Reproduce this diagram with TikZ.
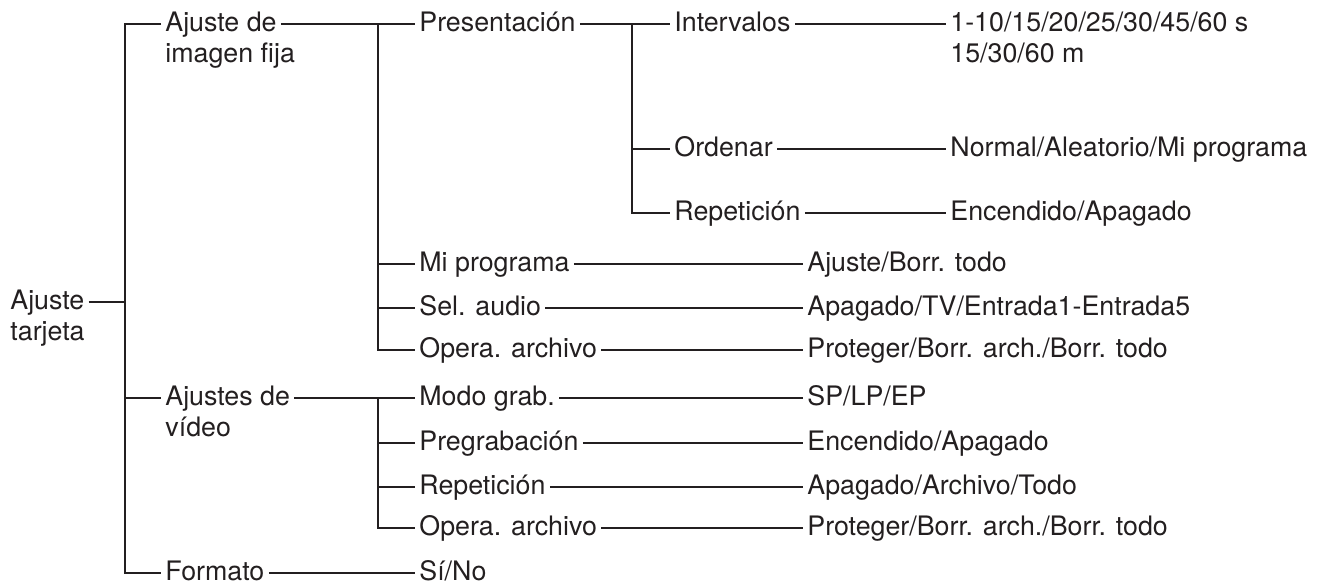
\documentclass[tikz,border=0pt]{standalone}
\usepackage{fontspec}
\setmainfont{TeX Gyre Heros}
\definecolor{tjtinta}{HTML}{231F20}
\tikzset{
  tjitem/.style={anchor=west, inner xsep=2pt, inner ysep=0pt, text height=0.72em,
                 text depth=0pt, text=tjtinta},
  tjsub/.style={anchor=base west, inner xsep=2pt, inner ysep=0pt, text height=0.72em,
                 text depth=0pt, text=tjtinta, yshift=-15.5pt},
  tjlinea/.style={draw=tjtinta, line width=1pt},
}
\begin{document}
\begin{tikzpicture}[x=0.5pt, y=-0.5pt, font=\fontsize{13.4}{15.5}\selectfont]
        \useasboundingbox (0,0) rectangle (1319,585);
        % ---------------- troncos ----------------
        \coordinate (t1) at (125,0);
        \coordinate (t2) at (378,0);
        \coordinate (t3) at (632,0);
        % ---------------- niveles 1 y 2 ----------------
        \node[tjitem, label={[tjsub]south west:tarjeta}] (raiz) at (6,302) {Ajuste};
        \node[tjitem, label={[tjsub]south west:imagen fija}] (fija) at (161,24) {Ajuste de};
        \node[tjitem, label={[tjsub]south west:vídeo}] (video) at (161,398) {Ajustes de};
        \node[tjitem] (formato) at (161,573) {Formato};
        % ---------------- nivel 3 ----------------
        \node[tjitem] (pres) at (415,24) {Presentación};
        \node[tjitem] (miprog) at (415,264) {Mi programa};
        \node[tjitem] (audio) at (415,308) {Sel. audio};
        \node[tjitem] (opera1) at (415,350) {Opera. archivo};
        \node[tjitem] (modo) at (415,398) {Modo grab.};
        \node[tjitem] (pregrab) at (415,443) {Pregrabación};
        \node[tjitem] (rep2) at (415,487) {Repetición};
        \node[tjitem] (opera2) at (415,528) {Opera. archivo};
        \node[tjitem] (sino) at (415,573) {Sí/No};
        % ---------------- nivel 4 ----------------
        \node[tjitem] (interv) at (670,24) {Intervalos};
        \node[tjitem] (orden) at (670,149) {Ordenar};
        \node[tjitem] (rep1) at (670,213) {Repetición};
        % ---------------- valores ----------------
        \node[tjitem, label={[tjsub]south west:15/30/60 m}] (vinterv) at (946,24) {1-10/15/20/25/30/45/60 s};
        \node[tjitem] (vorden) at (946,149) {Normal/Aleatorio/Mi programa};
        \node[tjitem] (vrep1) at (946,213) {Encendido/Apagado};
        \node[tjitem] (vmiprog) at (803,264) {Ajuste/Borr. todo};
        \node[tjitem] (vaudio) at (803,308) {Apagado/TV/Entrada1-Entrada5};
        \node[tjitem] (vopera1) at (803,350) {Proteger/Borr. arch./Borr. todo};
        \node[tjitem] (vmodo) at (803,398) {SP/LP/EP};
        \node[tjitem] (vpregrab) at (803,443) {Encendido/Apagado};
        \node[tjitem] (vrep2) at (803,487) {Apagado/Archivo/Todo};
        \node[tjitem] (vopera2) at (803,528) {Proteger/Borr. arch./Borr. todo};
        % ---------------- lineas ----------------
        \draw[tjlinea] (raiz.east) -- (t1 |- raiz.east);
        \draw[tjlinea] (fija.west) -- (t1 |- fija.west) -- (t1 |- formato.west) -- (formato.west);
        \draw[tjlinea] (t1 |- video.west) -- (video.west);
        \draw[tjlinea] (fija.east) -- (pres.west);
        \draw[tjlinea] (t2 |- pres.west) -- (t2 |- opera1.west) -- (opera1.west);
        \draw[tjlinea] (t2 |- miprog.west) -- (miprog.west);
        \draw[tjlinea] (t2 |- audio.west) -- (audio.west);
        \draw[tjlinea] (video.east) -- (modo.west);
        \draw[tjlinea] (t2 |- modo.west) -- (t2 |- opera2.west) -- (opera2.west);
        \draw[tjlinea] (t2 |- pregrab.west) -- (pregrab.west);
        \draw[tjlinea] (t2 |- rep2.west) -- (rep2.west);
        \draw[tjlinea] (formato.east) -- (sino.west);
        \draw[tjlinea] (pres.east) -- (interv.west);
        \draw[tjlinea] (t3 |- interv.west) -- (t3 |- rep1.west) -- (rep1.west);
        \draw[tjlinea] (t3 |- orden.west) -- (orden.west);
        \foreach \a/\b in {interv/vinterv, orden/vorden, rep1/vrep1, miprog/vmiprog,
                           audio/vaudio, opera1/vopera1, modo/vmodo, pregrab/vpregrab,
                           rep2/vrep2, opera2/vopera2}
          \draw[tjlinea] (\a.east) -- (\b.west);
\end{tikzpicture}
\end{document}
